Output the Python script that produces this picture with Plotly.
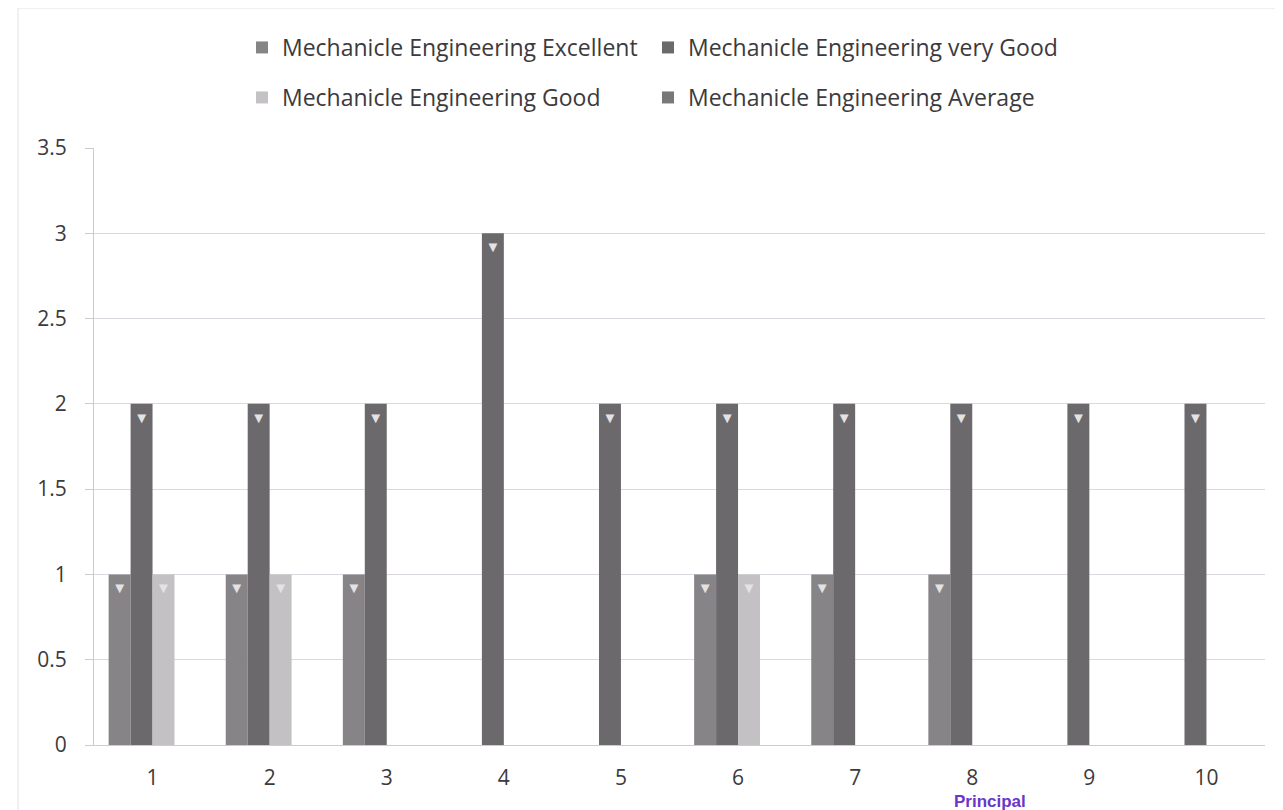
import plotly.graph_objects as go

# data
categories = ["1", "2", "3", "4", "5", "6", "7", "8", "9", "10"]
excellent = [1, 1, 1, 0, 0, 1, 1, 1, 0, 0]
very_good = [2, 2, 2, 3, 2, 2, 2, 2, 2, 2]
good = [1, 1, 0, 0, 0, 1, 0, 0, 0, 0]
average = [0, 0, 0, 0, 0, 0, 0, 0, 0, 0]

series_names = [
    "Mechanicle Engineering Excellent",
    "Mechanicle Engineering very Good",
    "Mechanicle Engineering Good",
    "Mechanicle Engineering Average",
]
series_values = [excellent, very_good, good, average]
series_colors = ["#878487", "#6c696c", "#c4c1c4", "#7a777a"]
legend_ids = ["legend", "legend2", "legend3", "legend4"]

fig = go.Figure()

for name, vals, col, lg in zip(series_names, series_values, series_colors, legend_ids):
    # light notch at the top of each bar, like the 3-D cylinders of the original
    notch = ["▼" if v > 0 else "" for v in vals]
    fig.add_trace(go.Bar(
        x=categories,
        y=vals,
        name=name,
        marker=dict(color=col, line=dict(width=0)),
        text=notch,
        textposition="inside",
        insidetextanchor="end",
        textangle=0,
        insidetextfont=dict(size=15, color="#e4e2e4"),
        hoverinfo="x+y+name",
        showlegend=True,
        legend=lg,
    ))

legend_font = dict(family="Open Sans, Lato, sans-serif", size=23, color="#3c3a3d")


def legend_box(x_px, y_px):
    # one legend per entry so the two rows sit like the original
    return dict(
        orientation="h", xref="container", yref="container",
        x=x_px / 1283, y=1 - y_px / 810, xanchor="left", yanchor="top",
        font=legend_font, bgcolor="rgba(0,0,0,0)", visible=True,
    )


fig.update_layout(
    width=1283,
    height=810,
    showlegend=True,
    barmode="group",
    bargap=0.25,
    bargroupgap=0,
    uniformtext=dict(mode="show", minsize=8),
    paper_bgcolor="white",
    plot_bgcolor="white",
    margin=dict(l=86, r=26, t=140, b=73),
    font=dict(family="Open Sans, Lato, sans-serif", size=21, color="#3c3a3d"),
    legend=legend_box(234, 18),
    legend2=legend_box(640, 18),
    legend3=legend_box(234, 68),
    legend4=legend_box(640, 68),
    xaxis=dict(
        showgrid=False, automargin=False,
        showline=True, linecolor="#cfc9d3", linewidth=1,
        ticks="", ticklabelstandoff=14,
        tickfont=dict(size=21, color="#3c3a3d"),
    ),
    yaxis=dict(
        range=[0, 3.5], dtick=0.5, automargin=False,
        showgrid=True, gridcolor="#ddd7e0", gridwidth=1,
        showline=True, linecolor="#cfc9d3", linewidth=1,
        ticks="outside", ticklen=8, tickcolor="#cfc9d3",
        ticklabelstandoff=14,
        tickfont=dict(size=21, color="#3c3a3d"),
        zeroline=False,
    ),
    annotations=[dict(
        text="<b>Principal</b>", xref="paper", yref="paper",
        x=(982 - 86) / 1171, y=(737 - 804) / 597, xanchor="center", yanchor="bottom",
        showarrow=False, borderpad=0,
        font=dict(family="Liberation Sans, Arial, sans-serif", size=17, color="#6b35c9"),
    )],
    shapes=[dict(
        type="rect", xref="paper", yref="paper",
        x0=(10 - 86) / 1171, x1=1.05, y0=-0.3, y1=1 + 140 / 597,
        line=dict(color="#e2dfe4", width=1),
    )],
)

fig.write_html("out.html")
